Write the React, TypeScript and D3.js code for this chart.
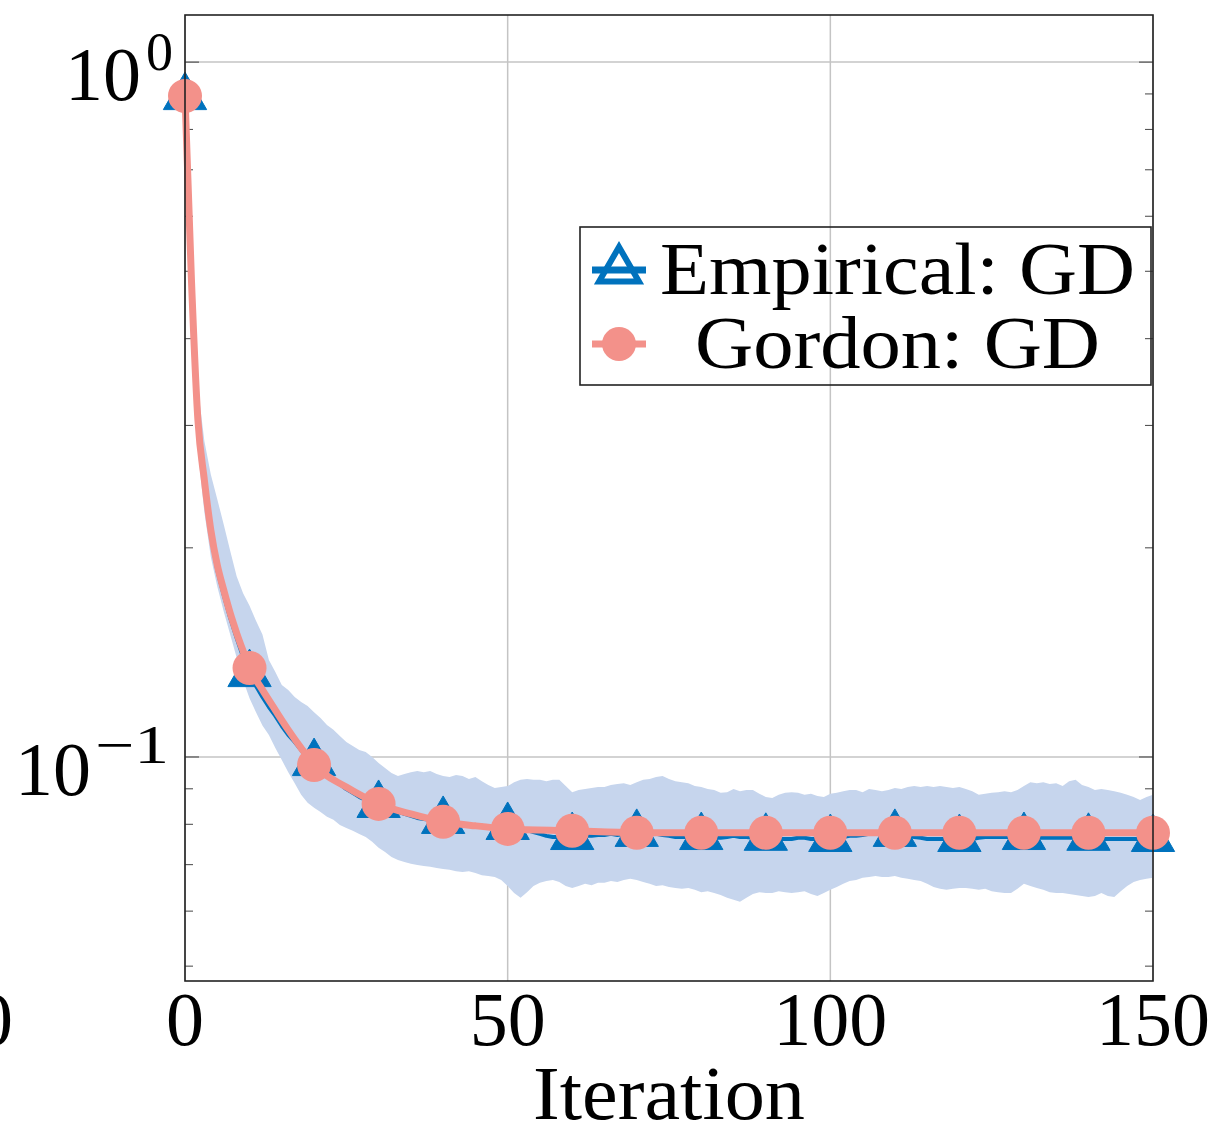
import React from 'react';
import * as d3 from 'd3';

// ---- data ----
const empiricalMean = [
  0.8905,0.4777,0.3004,0.2461,0.2087,0.1858,0.1710,0.1585,0.1484,0.1393,
  0.1316,0.1265,0.1220,0.1180,0.1146,0.1108,0.1076,0.1051,0.1023,0.1000,
  0.0980,0.0961,0.0945,0.0930,0.0914,0.0899,0.0888,0.0876,0.0867,0.0859,
  0.0853,0.0847,0.0839,0.0834,0.0828,0.0823,0.0817,0.0814,0.0812,0.0812,
  0.0809,0.0804,0.0801,0.0798,0.0798,0.0796,0.0796,0.0793,0.0793,0.0793,
  0.0793,0.0790,0.0788,0.0785,0.0780,0.0775,0.0770,0.0767,0.0767,0.0767,
  0.0767,0.0767,0.0770,0.0770,0.0772,0.0772,0.0775,0.0772,0.0775,0.0775,
  0.0775,0.0775,0.0778,0.0775,0.0772,0.0770,0.0767,0.0767,0.0767,0.0767,
  0.0767,0.0765,0.0765,0.0765,0.0767,0.0770,0.0767,0.0767,0.0765,0.0765,
  0.0765,0.0765,0.0762,0.0762,0.0762,0.0765,0.0765,0.0762,0.0762,0.0762,
  0.0762,0.0765,0.0767,0.0770,0.0770,0.0772,0.0775,0.0775,0.0775,0.0775,
  0.0775,0.0772,0.0770,0.0767,0.0765,0.0762,0.0762,0.0762,0.0762,0.0762,
  0.0762,0.0762,0.0762,0.0765,0.0767,0.0767,0.0767,0.0767,0.0767,0.0767,
  0.0767,0.0767,0.0765,0.0765,0.0765,0.0765,0.0765,0.0765,0.0765,0.0765,
  0.0765,0.0765,0.0762,0.0762,0.0762,0.0762,0.0762,0.0762,0.0762,0.0762,
  0.0762,
];

const empiricalUpper = [
  0.8993,0.502,0.340,0.285,0.255,0.235,0.216,0.198,0.182,0.172,
  0.165,0.157,0.150,0.1379,0.1325,0.1269,0.1249,0.1220,0.1200,0.1184,
  0.1160,0.1138,0.1112,0.1094,0.1072,0.1051,0.1037,0.1023,0.1017,0.1000,
  0.0980,0.0964,0.0948,0.0939,0.0945,0.0951,0.0955,0.0951,0.0955,0.0945,
  0.0939,0.0936,0.0942,0.0939,0.0930,0.0936,0.0923,0.0911,0.0902,0.0905,
  0.0908,0.0920,0.0927,0.0930,0.0927,0.0927,0.0923,0.0927,0.0927,0.0908,
  0.0890,0.0896,0.0899,0.0902,0.0905,0.0905,0.0911,0.0914,0.0917,0.0911,
  0.0920,0.0927,0.0930,0.0936,0.0939,0.0930,0.0923,0.0920,0.0917,0.0908,
  0.0905,0.0899,0.0896,0.0888,0.0890,0.0899,0.0893,0.0896,0.0896,0.0885,
  0.0876,0.0873,0.0882,0.0888,0.0890,0.0888,0.0882,0.0885,0.0879,0.0876,
  0.0885,0.0888,0.0893,0.0896,0.0896,0.0890,0.0899,0.0896,0.0893,0.0896,
  0.0902,0.0899,0.0905,0.0908,0.0905,0.0908,0.0905,0.0908,0.0905,0.0902,
  0.0905,0.0899,0.0893,0.0882,0.0885,0.0888,0.0890,0.0893,0.0890,0.0896,
  0.0908,0.0920,0.0917,0.0920,0.0914,0.0917,0.0908,0.0923,0.0927,0.0911,
  0.0905,0.0896,0.0899,0.0896,0.0893,0.0888,0.0882,0.0876,0.0867,0.0876,
  0.0882,
];

const empiricalLower = [
  0.8845,0.4545,0.275,0.225,0.194,0.176,0.162,0.150,0.139,0.129,
  0.1215,0.116,0.111,0.1076,0.1030,0.0990,0.0951,0.0917,0.0882,0.0859,
  0.0845,0.0833,0.0820,0.0812,0.0798,0.0790,0.0783,0.0775,0.0767,0.0755,
  0.0740,0.0730,0.0718,0.0711,0.0706,0.0702,0.0699,0.0697,0.0695,0.0692,
  0.0690,0.0688,0.0685,0.0683,0.0685,0.0681,0.0676,0.0674,0.0672,0.0665,
  0.0652,0.0637,0.0627,0.0639,0.0652,0.0659,0.0663,0.0665,0.0661,0.0652,
  0.0648,0.0652,0.0657,0.0654,0.0659,0.0659,0.0663,0.0661,0.0665,0.0668,
  0.0665,0.0661,0.0657,0.0652,0.0654,0.0650,0.0648,0.0646,0.0648,0.0644,
  0.0639,0.0641,0.0637,0.0633,0.0627,0.0623,0.0619,0.0627,0.0635,0.0639,
  0.0637,0.0637,0.0641,0.0639,0.0637,0.0639,0.0641,0.0635,0.0631,0.0637,
  0.0644,0.0650,0.0657,0.0663,0.0665,0.0670,0.0672,0.0674,0.0672,0.0672,
  0.0674,0.0670,0.0668,0.0665,0.0663,0.0657,0.0650,0.0646,0.0644,0.0646,
  0.0648,0.0648,0.0646,0.0644,0.0646,0.0641,0.0639,0.0637,0.0637,0.0646,
  0.0657,0.0652,0.0648,0.0644,0.0639,0.0637,0.0637,0.0635,0.0633,0.0631,
  0.0629,0.0631,0.0637,0.0631,0.0629,0.0641,0.0652,0.0661,0.0665,0.0668,
  0.0670,
];

const gordonIterations = [0,1,2,3,4,5,6,7,8,9,10,12,14,16,18,20,25,30,35,40,45,50,60,70,80,90,100,110,120,130,140,150];
const gordonValues = [
  0.8935,0.4857,0.3054,0.2503,0.2122,0.1889,0.1739,0.1611,0.1508,0.1421,
  0.1343,0.1249,0.1168,0.1094,0.1030,0.0974,0.0905,0.0856,0.0828,0.0807,
  0.0796,0.0788,0.0783,0.0778,0.0778,0.0778,0.0778,0.0778,0.0778,0.0778,
  0.0778,0.0778,
];

const xTicks = [0, 50, 100, 150];
const yMajorTicks = [0.1, 1];
const yMinorTicks = [0.05, 0.06, 0.07, 0.08, 0.09, 0.2, 0.3, 0.4, 0.5, 0.6, 0.7, 0.8, 0.9];
const xDomain = [0, 150];
const yDomain = [0.0476, 1.169];
const legendLabels = ['Empirical: GD', 'Gordon: GD'];
const xLabel = 'Iteration';

// ---- styles ----
const BLUE = '#0072bd';
const SALMON = '#f3918a';
const BAND = '#c6d5ed';
const GRID = '#c4c4c4';
const FONT = '"Liberation Serif", "Times New Roman", serif';

export default function App() {
  const W = 1217, H = 1131;
  const L = 185, R = 1153, T = 15, B = 981;
  const x = d3.scaleLinear().domain(xDomain).range([L, R]);
  const y = d3.scaleLog().domain(yDomain).range([B, T]);

  const iters = empiricalMean.map((_, i) => i);
  const area = d3.area<number>()
    .x((i) => x(i))
    .y0((i) => y(empiricalLower[i]))
    .y1((i) => y(empiricalUpper[i]));
  const empLine = d3.line<number>().x((i) => x(i)).y((i) => y(empiricalMean[i]));
  const gordonIdx = gordonIterations.map((_, i) => i);
  const gordonLine = d3.line<number>()
    .x((i) => x(gordonIterations[i]))
    .y((i) => y(gordonValues[i]))
    .curve(d3.curveMonotoneX);

  const triR = 25;
  const tri = (cx: number, cy: number, r: number) => {
    const h = r * Math.sqrt(3) / 2;
    return `M${cx},${cy - r}L${cx + h},${cy + r / 2}L${cx - h},${cy + r / 2}Z`;
  };
  const circR = 17;

  const empMarkers = iters.filter((i) => i % 10 === 0);
  const gordonMarkers = gordonIdx.filter((i) => gordonIterations[i] % 10 === 0);

  const fs = 76;
  const sup = 54;

  return (
    <div style={{ position: 'absolute', left: 0, top: 0 }}>
      <svg width={W} height={H} style={{ display: 'block', background: '#fff' }} fontFamily={FONT}>
        <rect x={0} y={0} width={W} height={H} fill="#fff" />
        <defs>
          <clipPath id="plotclip">
            <rect x={L} y={T} width={R - L} height={B - T} />
          </clipPath>
        </defs>
        {/* grid */}
        {xTicks.map((t) => (
          <line key={'gx' + t} x1={x(t)} x2={x(t)} y1={T} y2={B} stroke={GRID} strokeWidth={1.5} />
        ))}
        {yMajorTicks.map((t) => (
          <line key={'gy' + t} x1={L} x2={R} y1={y(t)} y2={y(t)} stroke={GRID} strokeWidth={1.5} />
        ))}
        {/* y ticks */}
        {yMajorTicks.map((t) => (
          <g key={'ty' + t}>
            <line x1={L} x2={L + 14} y1={y(t)} y2={y(t)} stroke="#555" strokeWidth={1.2} />
            <line x1={R} x2={R - 14} y1={y(t)} y2={y(t)} stroke="#555" strokeWidth={1.2} />
          </g>
        ))}
        {yMinorTicks.map((t) => (
          <g key={'tm' + t}>
            <line x1={L} x2={L + 8} y1={y(t)} y2={y(t)} stroke="#555" strokeWidth={1.1} />
            <line x1={R} x2={R - 8} y1={y(t)} y2={y(t)} stroke="#555" strokeWidth={1.1} />
          </g>
        ))}
        {/* band */}
        <path d={area(iters) || ''} fill={BAND} clipPath="url(#plotclip)" />
        {/* empirical line */}
        <path d={empLine(iters) || ''} fill="none" stroke={BLUE} strokeWidth={4} strokeLinejoin="round" />
        {empMarkers.map((i) => (
          <path key={'tr' + i} d={tri(x(i), y(empiricalMean[i]), triR)} fill={BLUE} stroke={BLUE} strokeWidth={1} />
        ))}
        {/* gordon */}
        <path d={gordonLine(gordonIdx) || ''} fill="none" stroke={SALMON} strokeWidth={7} strokeLinejoin="round" />
        {gordonMarkers.map((i) => (
          <circle key={'c' + i} cx={x(gordonIterations[i])} cy={y(gordonValues[i])} r={circR} fill={SALMON} />
        ))}
        {/* frame */}
        <rect x={L} y={T} width={R - L} height={B - T} fill="none" stroke="#222" strokeWidth={1.6} />
        {/* y tick labels */}
        <text x={141} y={100} fontSize={fs} textAnchor="end">10</text>
        <text x={146} y={70} fontSize={sup}>0</text>
        <text x={91} y={795} fontSize={fs} textAnchor="end">10</text>
        <text x={95} y={763} fontSize={sup} textLength={74} lengthAdjust="spacingAndGlyphs">−1</text>
        {/* x tick labels */}
        {xTicks.map((t) => (
          <text key={'xl' + t} x={x(t)} y={1045} fontSize={fs} textAnchor="middle">{String(t)}</text>
        ))}
        <text x={-6} y={1045} fontSize={fs} textAnchor="middle">0</text>
        <text x={669} y={1119} fontSize={fs} textAnchor="middle" textLength={272} lengthAdjust="spacingAndGlyphs">{xLabel}</text>
        {/* legend */}
        <rect x={580} y={227} width={571} height={158} fill="none" stroke="#222" strokeWidth={1.6} />
        <line x1={592} x2={646} y1={270} y2={270} stroke={BLUE} strokeWidth={7} />
        <path d={tri(619, 270, 23)} fill="#fff" stroke={BLUE} strokeWidth={6} />
        <line x1={606} x2={632} y1={270} y2={270} stroke={BLUE} strokeWidth={7} />
        <text x={660} y={294} fontSize={74} textLength={475} lengthAdjust="spacingAndGlyphs">{legendLabels[0]}</text>
        <line x1={592} x2={646} y1={344} y2={344} stroke={SALMON} strokeWidth={7} />
        <circle cx={619} cy={344} r={circR} fill={SALMON} />
        <text x={695} y={368} fontSize={74} textLength={405} lengthAdjust="spacingAndGlyphs">{legendLabels[1]}</text>
      </svg>
    </div>
  );
}
